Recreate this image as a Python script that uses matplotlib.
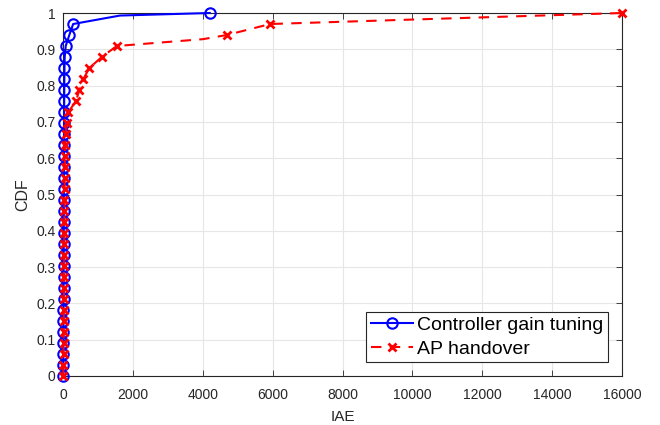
import matplotlib
matplotlib.use('Agg')
import matplotlib.pyplot as plt
import numpy as np

plt.rcParams['font.family'] = ['Liberation Sans', 'DejaVu Sans']

# data (CDF levels step by 1/33)
cdf_levels = [i / 33 for i in range(34)]

gain_iae = [5, 7, 9, 10, 11, 12, 13, 14, 15, 16, 17, 18, 19, 20, 21, 22, 23, 24,
            25, 26, 27, 28, 29, 30, 32, 34, 36, 38, 42, 48, 77, 180, 290, 4200]
handover_iae = [10, 12, 14, 16, 18, 20, 22, 24, 26, 28, 30, 32, 34, 36, 38, 40, 42,
                45, 48, 52, 56, 62, 75, 105, 152, 372, 467, 582, 754, 1108, 1538,
                4690, 5930, 16000]

# extra line vertices without markers (x, cdf, insert position)
gain_extra = (1630, 0.993, 33)
handover_extra = (4010, 0.928, 31)


def with_extra(xs, ys, extra):
    x, y, pos = extra
    xs = list(xs[:pos]) + [x] + list(xs[pos:])
    ys = list(ys[:pos]) + [y] + list(ys[pos:])
    marks = [i for i in range(len(xs)) if i != pos]
    return xs, ys, marks


fig = plt.figure(figsize=(6.6, 4.25), dpi=100)
ax = fig.add_axes([0.0955, 0.1153, 0.8469, 0.8541])

gx, gy, gm = with_extra(gain_iae, cdf_levels, gain_extra)
hx, hy, hm = with_extra(handover_iae, cdf_levels, handover_extra)

ax.plot(gx, gy, '-', color='#0000ff', lw=1.5, marker='o', markersize=7.5,
        markerfacecolor='none', markeredgewidth=1.5, markevery=gm,
        label='Controller gain tuning', zorder=3, clip_on=False)
ax.plot(hx, hy, '--', color='#ff0000', lw=1.5, marker='x', markersize=5.5,
        markeredgewidth=2, markevery=hm, dashes=(5, 4),
        label='AP handover', zorder=4, clip_on=False)

ax.set_xlim(0, 16000)
ax.set_ylim(0, 1)
ax.set_xticks(np.arange(0, 16001, 2000))
ax.set_yticks(np.arange(0, 1.01, 0.1))
ax.set_yticklabels(['0', '0.1', '0.2', '0.3', '0.4', '0.5', '0.6', '0.7', '0.8', '0.9', '1'])
ax.tick_params(direction='in', top=True, right=True, labelsize=10, length=4,
               width=0.6, colors='#262626')
ax.tick_params(axis='x', pad=8.5)
ax.tick_params(axis='y', pad=5.5)
ax.grid(True, color='#e6e6e6', lw=0.8)
ax.set_axisbelow(True)
for s in ax.spines.values():
    s.set_color('#262626')
    s.set_linewidth(0.8)

ax.set_xlabel('IAE', fontsize=11, color='#262626', labelpad=6)
ax.set_ylabel('CDF', fontsize=11.5, color='#262626', labelpad=4)

leg = ax.legend(loc='lower right', fontsize=14, fancybox=False, framealpha=1,
                edgecolor='#262626', borderpad=0.25, handlelength=2.2,
                handletextpad=0.2, labelspacing=0.3, borderaxespad=0.7)
leg.get_frame().set_linewidth(0.8)

fig.savefig('out.png', dpi=100)
